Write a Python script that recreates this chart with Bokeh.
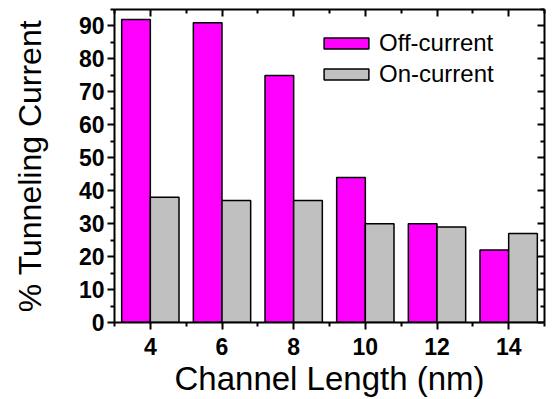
from bokeh.plotting import figure
from bokeh.models import (ColumnDataSource, Range1d, FixedTicker, LinearAxis, Legend, LegendItem)
from bokeh.transform import dodge
from bokeh.embed import file_html
from bokeh.resources import INLINE

channel_length = [4, 6, 8, 10, 12, 14]
off_current = [92, 91, 75, 44, 30, 22]
on_current = [38, 37, 37, 30, 29, 27]
x_ticks = [4, 6, 8, 10, 12, 14]
y_ticks = [0, 10, 20, 30, 40, 50, 60, 70, 80, 90]

src = ColumnDataSource(dict(x=channel_length, off=off_current, on=on_current))

FONT = "Liberation Sans"
p = figure(width=552, height=399, output_backend="svg", toolbar_location=None,
           x_range=Range1d(3, 15), y_range=Range1d(0, 95),
           min_border_left=114, min_border_right=8, min_border_top=9, min_border_bottom=73)
p.xgrid.visible = False
p.ygrid.visible = False
p.outline_line_color = None

r_off = p.vbar(x=dodge("x", -0.4, range=p.x_range), top="off", width=0.8, source=src,
               fill_color="#FF00FF", line_color="black", line_width=1.5)
r_on = p.vbar(x=dodge("x", 0.4, range=p.x_range), top="on", width=0.8, source=src,
              fill_color="#C0C0C0", line_color="black", line_width=1.5)

xt = FixedTicker(ticks=x_ticks, minor_ticks=[3, 5, 7, 9, 11, 13, 15])
yt = FixedTicker(ticks=y_ticks, minor_ticks=[5, 15, 25, 35, 45, 55, 65, 75, 85, 95])

def style(ax, labels=True, inward=False):
    ax.axis_line_width = 2
    ax.axis_line_color = "black"
    ax.major_tick_line_width = 2
    ax.minor_tick_line_width = 2
    if inward:
        ax.major_tick_in = 7
        ax.major_tick_out = 0
        ax.minor_tick_in = 4
        ax.minor_tick_out = 0
    else:
        ax.major_tick_in = 0
        ax.major_tick_out = 7
        ax.minor_tick_in = 0
        ax.minor_tick_out = 4
    if not labels:
        ax.major_label_text_font_size = "0px"
        ax.major_label_text_color = None
    else:
        ax.major_label_text_font = FONT
        ax.major_label_text_font_style = "bold"
        ax.major_label_text_font_size = "23px"
        ax.major_label_text_color = "black"
    ax.axis_label_text_font = FONT
    ax.axis_label_text_font_style = "normal"
    ax.axis_label_text_color = "black"

xa = p.xaxis[0]
xa.ticker = xt
xa.axis_label = "Channel Length (nm)"
xa.axis_label_text_font_size = "33px"
xa.axis_label_standoff = 2
xa.major_label_standoff = 8
style(xa)

ya = p.yaxis[0]
ya.ticker = yt
ya.axis_label = "% Tunneling Current"
ya.axis_label_text_font_size = "32px"
ya.axis_label_standoff = 28
ya.major_label_standoff = 3
style(ya)

top_ax = LinearAxis(ticker=xt)
style(top_ax, labels=False, inward=True)
p.add_layout(top_ax, "above")
right_ax = LinearAxis(ticker=yt)
style(right_ax, labels=False, inward=True)
p.add_layout(right_ax, "right")

legend = Legend(items=[LegendItem(label="Off-current", renderers=[r_off]),
                       LegendItem(label="On-current", renderers=[r_on])],
                location=(204, 234))
legend.border_line_color = None
legend.background_fill_alpha = 0
legend.padding = 0
legend.margin = 0
legend.spacing = 3
legend.glyph_width = 56
legend.glyph_height = 14
legend.label_standoff = 5
legend.label_text_font = FONT
legend.label_text_font_size = "24px"
legend.label_text_color = "black"
p.add_layout(legend, "center")

open("out.html", "w").write(file_html(p, INLINE))
